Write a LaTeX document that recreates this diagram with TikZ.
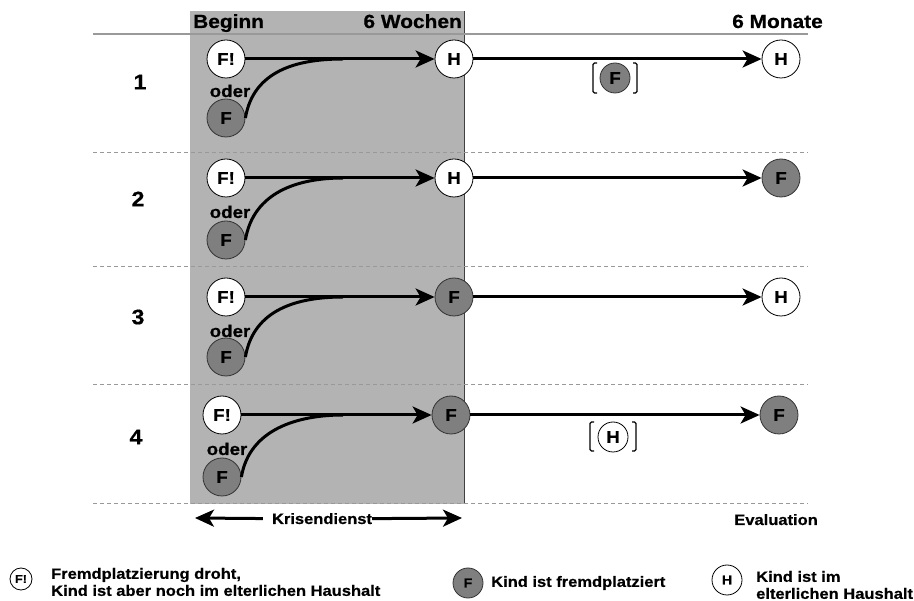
\documentclass[tikz,border=0pt]{standalone}
\usepackage{fontspec}
\setmainfont[FakeStretch=1.1,BoldFeatures={FakeBold=0.6}]{Liberation Sans}
\usetikzlibrary{arrows.meta}
\definecolor{band}{HTML}{B3B3B3}
\definecolor{placed}{HTML}{7F7F7F}
\definecolor{rule}{HTML}{999999}

\begin{document}
\begin{tikzpicture}
    [x=1pt,y=-1pt,
     state/.style={shape=circle,draw=black,line width=0.8pt,inner sep=0pt,
       minimum size=38pt,font=\bfseries\fontsize{17}{20}\selectfont},
     home/.style={state,fill=white},
     away/.style={state,fill=placed,draw=black!80},
     maybe/.style={minimum size=30pt},
     key/.style={minimum size=30pt,font=\bfseries\fontsize{13}{15}\selectfont},
     pre/.style={{Stealth[length=19pt,width=17pt,inset=5pt]}-,line width=3pt},
     swing/.style={line width=3pt},
     span/.style={-{Stealth[length=19pt,width=17pt,inset=5pt]},line width=3pt},
     brk/.style={line width=1.3pt,rounded corners=1.5pt},
     sep/.style={rule,line width=1pt,dash pattern=on 4pt off 3pt},
     hdr/.style={inner sep=0pt,font=\bfseries\fontsize{19}{22}\selectfont},
     num/.style={inner sep=0pt,font=\bfseries\fontsize{21}{24}\selectfont},
     alt/.style={inner sep=0pt,anchor=base,font=\bfseries\fontsize{17}{19}\selectfont},
     note/.style={inner sep=0pt,align=left,font=\bfseries\fontsize{15}{17}\selectfont}]
    \useasboundingbox (0,0) rectangle (914,601);
    % Krisendienst band
    \fill [band] (190,11) rectangle (464,504);
    \draw [black!75,line width=0.6pt] (464,11) -- (464,504);
    \draw [rule,line width=1.5pt] (93,34) -- (808,34);
    \draw [sep] (93,153) -- (808,153);
    \draw [sep] (93,267) -- (808,267);
    \draw [sep] (93,385) -- (808,385);
    \draw [sep] (93,504) -- (808,504);
    \node [hdr,anchor=base west] (beg) at (193,28) {Beginn};
    \node [hdr,anchor=base east] (wk) at (462,28) {6 Wochen};
    \node [hdr,anchor=base east] (mo) at (823,28) {6 Monate};
    % Fall 1
    \node [num] (n1) at (140,82) {1};
    \node [home] (a1) at (226,59) {F!};
    \node [alt] (o1) at (230,97) {oder};
    \node [away] (b1) at (226,118) {F};
    \coordinate (m1) at (343,59);
    \draw [swing] (b1.east) .. controls +(8,-48) and +(-45,0) .. (m1);
    \node [home] (h1) at (454,59) {H}
      edge [pre] (a1);
    \node [home] (e1) at (781,59) {H}
      edge [pre] (h1);
    \node [away,maybe] (p1) at (615,78) {F};
    \draw [brk] (597,63) -- (593,63) -- (593,93) -- (597,93);
    \draw [brk] (633,63) -- (637,63) -- (637,93) -- (633,93);
    % Fall 2
    \node [num] (n2) at (138,199) {2};
    \node [home] (a2) at (226,178) {F!};
    \node [alt] (o2) at (230,218) {oder};
    \node [away] (b2) at (226,240) {F};
    \coordinate (m2) at (343,178);
    \draw [swing] (b2.east) .. controls +(8,-48) and +(-45,0) .. (m2);
    \node [home] (h2) at (454,178) {H}
      edge [pre] (a2);
    \node [away] (e2) at (781,178) {F}
      edge [pre] (h2);
    % Fall 3
    \node [num] (n3) at (138,317) {3};
    \node [home] (a3) at (226,297) {F!};
    \node [alt] (o3) at (230,337) {oder};
    \node [away] (b3) at (226,357) {F};
    \coordinate (m3) at (343,297);
    \draw [swing] (b3.east) .. controls +(8,-48) and +(-45,0) .. (m3);
    \node [away] (h3) at (454,297) {F}
      edge [pre] (a3);
    \node [home] (e3) at (781,297) {H}
      edge [pre] (h3);
    % Fall 4
    \node [num] (n4) at (136,437) {4};
    \node [home] (a4) at (222,415) {F!};
    \node [alt] (o4) at (227,455) {oder};
    \node [away] (b4) at (222,477) {F};
    \coordinate (m4) at (343,415);
    \draw [swing] (b4.east) .. controls +(8,-48) and +(-45,0) .. (m4);
    \node [away] (h4) at (451,415) {F}
      edge [pre] (a4);
    \node [away] (e4) at (779,415) {F}
      edge [pre] (h4);
    \node [home,maybe] (p4) at (613,437) {H};
    \draw [brk] (594,422) -- (590,422) -- (590,451) -- (594,451);
    \draw [brk] (632,422) -- (636,422) -- (636,451) -- (632,451);
    % Zeitachse
    \node [note,anchor=base] (kd) at (322,524) {Krisendienst};
    \coordinate (kl) at (195,518);
    \coordinate (kr) at (462,518);
    \draw [span,shorten <=9pt] (kd.west) -- (kl);
    \draw [span] (kd.east) -- (kr);
    \node [note,anchor=base east] (ev) at (818,525) {Evaluation};
    % Legende
    \node [home,key,minimum size=22pt,font=\bfseries\fontsize{11.5}{13}\selectfont] (kf) at (21,579) {F!};
    \node [note,anchor=west] (kft) at (51,582) {Fremdplatzierung droht,\\Kind ist aber noch im elterlichen Haushalt};
    \node [away,key] (kp) at (468,583) {F};
    \node [note,anchor=west] (kpt) at (491,583) {Kind ist fremdplatziert};
    \node [home,key] (kh) at (727,580) {H};
    \node [note,anchor=west] (kht) at (756,585) {Kind ist im\\elterlichen Haushalt};
  \end{tikzpicture}
\end{document}
